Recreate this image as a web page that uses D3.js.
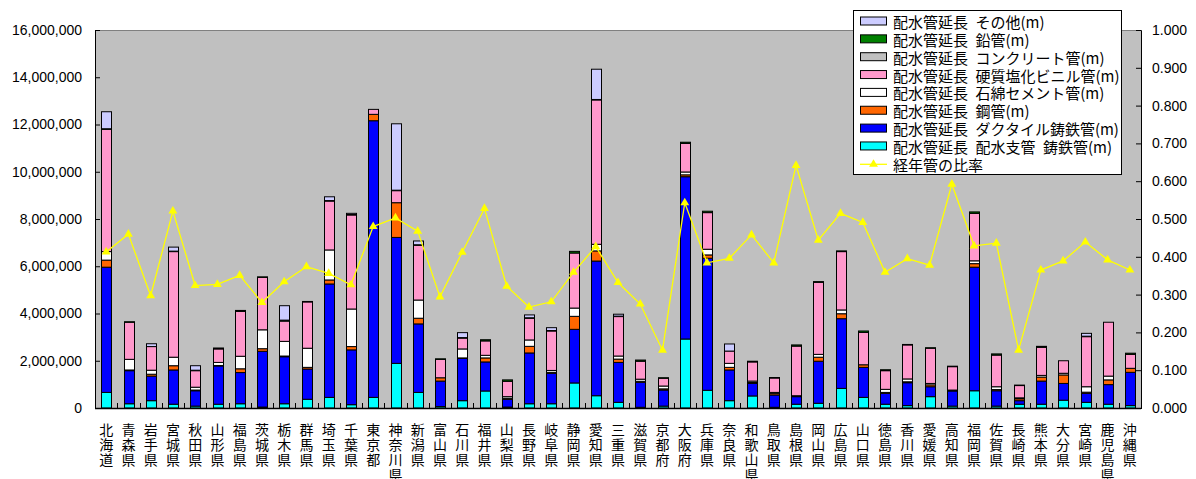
<!DOCTYPE html>
<html><head><meta charset="utf-8">
<script src="https://cdn.jsdelivr.net/npm/d3@7"></script>
<style>
html,body{margin:0;padding:0;background:#fff;}
svg{display:block;}
.catlabel{writing-mode:vertical-rl;text-orientation:upright;}
</style></head><body>
<svg id="chart" width="1196" height="479"></svg>
<script>
// 都道府県別 配水管延長（管種別, m）と経年管の比率
const prefectures = ["北海道","青森県","岩手県","宮城県","秋田県","山形県","福島県","茨城県","栃木県","群馬県","埼玉県","千葉県","東京都","神奈川県","新潟県","富山県","石川県","福井県","山梨県","長野県","岐阜県","静岡県","愛知県","三重県","滋賀県","京都府","大阪府","兵庫県","奈良県","和歌山県","鳥取県","島根県","岡山県","広島県","山口県","徳島県","香川県","愛媛県","高知県","福岡県","佐賀県","長崎県","熊本県","大分県","宮崎県","鹿児島県","沖縄県"];

const castIronBranch = [660000,180000,310000,160000,80000,160000,180000,40000,180000,370000,450000,140000,450000,1890000,660000,60000,310000,720000,40000,180000,180000,1060000,520000,240000,30000,80000,2920000,750000,310000,510000,30000,160000,200000,830000,450000,160000,100000,480000,80000,730000,80000,160000,160000,330000,240000,160000,100000];
const ductileIron = [5300000,1400000,1040000,1450000,650000,1620000,1320000,2360000,1990000,1280000,4800000,2320000,11710000,5330000,2900000,1080000,1790000,1230000,330000,2150000,1290000,2270000,5700000,1690000,1060000,680000,6870000,5590000,1300000,530000,520000,320000,1780000,2950000,1270000,460000,970000,420000,640000,5230000,650000,150000,980000,710000,380000,830000,1410000];
const steelPipe = [300000,30000,80000,180000,30000,20000,160000,110000,30000,70000,170000,140000,270000,1470000,240000,140000,20000,170000,40000,280000,40000,550000,430000,140000,40000,50000,80000,140000,110000,40000,60000,40000,170000,210000,110000,40000,40000,80000,40000,150000,50000,80000,170000,360000,50000,200000,170000];
const asbestosCement = [360000,450000,170000,360000,120000,130000,530000,800000,620000,810000,1270000,1590000,0,0,770000,0,380000,110000,70000,270000,80000,350000,280000,130000,90000,120000,120000,240000,170000,60000,50000,0,120000,160000,0,130000,120000,60000,0,120000,120000,40000,70000,70000,230000,160000,0];
const rigidPVC = [5180000,1570000,1000000,4470000,700000,570000,1900000,2220000,860000,1960000,2070000,3980000,210000,510000,2320000,780000,460000,610000,650000,920000,1670000,2330000,6110000,1670000,760000,330000,1210000,1550000,520000,810000,610000,2100000,3050000,2470000,1370000,790000,1440000,1490000,990000,2010000,1340000,520000,1190000,530000,2120000,2280000,590000];
const concretePipe = [0,0,0,0,0,0,0,0,0,0,0,0,0,0,0,0,0,0,0,0,0,0,0,0,0,0,0,0,0,0,0,0,0,0,0,0,0,0,0,0,0,0,0,0,0,0,0];
const leadPipe = [20000,20000,0,20000,20000,40000,40000,20000,40000,20000,20000,20000,0,20000,20000,20000,20000,50000,60000,20000,20000,70000,20000,20000,50000,20000,50000,60000,0,30000,20000,50000,30000,30000,60000,40000,20000,20000,20000,60000,50000,20000,40000,0,20000,0,50000];
const otherPipe = [720000,0,120000,170000,190000,0,0,0,610000,0,160000,50000,0,2810000,160000,0,210000,0,0,120000,120000,0,1280000,80000,0,0,0,0,300000,0,0,0,0,0,0,0,0,0,0,0,0,0,0,0,120000,0,0];
const agedRatio = [0.413,0.460,0.297,0.521,0.324,0.327,0.351,0.279,0.334,0.374,0.356,0.326,0.480,0.503,0.468,0.294,0.412,0.528,0.322,0.267,0.281,0.359,0.427,0.332,0.275,0.153,0.543,0.384,0.396,0.458,0.384,0.642,0.444,0.515,0.491,0.359,0.395,0.378,0.592,0.429,0.436,0.153,0.365,0.389,0.439,0.392,0.365];

const leftTicks = [0,2000000,4000000,6000000,8000000,10000000,12000000,14000000,16000000];
const rightTicks = [0,0.1,0.2,0.3,0.4,0.5,0.6,0.7,0.8,0.9,1.0];

// 積み上げ順（下から）
const seriesDefs = [
  {key:"castIronBranch", name:"配水管延長\u2002配水支管\u2002鋳鉄管(m)", color:"#00ffff", values:castIronBranch},
  {key:"ductileIron", name:"配水管延長\u2002ダクタイル鋳鉄管(m)", color:"#0000ff", values:ductileIron},
  {key:"steelPipe", name:"配水管延長\u2002鋼管(m)", color:"#ff6600", values:steelPipe},
  {key:"asbestosCement", name:"配水管延長\u2002石綿セメント管(m)", color:"#ffffff", values:asbestosCement},
  {key:"rigidPVC", name:"配水管延長\u2002硬質塩化ビニル管(m)", color:"#ff99cc", values:rigidPVC},
  {key:"concretePipe", name:"配水管延長\u2002コンクリート管(m)", color:"#c0c0c0", values:concretePipe},
  {key:"leadPipe", name:"配水管延長\u2002鉛管(m)", color:"#008000", values:leadPipe},
  {key:"otherPipe", name:"配水管延長\u2002その他(m)", color:"#ccccff", values:otherPipe}
];
const lineName = "経年管の比率";

const svg = d3.select("#chart");
const plot = {left:95, right:1141, top:30, bottom:408};

const x = d3.scaleBand().domain(prefectures).range([plot.left, plot.right])
  .paddingInner(0.565).paddingOuter(0.2825);
const yL = d3.scaleLinear().domain([0,16000000]).range([plot.bottom, plot.top]);
const yR = d3.scaleLinear().domain([0,1]).range([plot.bottom, plot.top]);

// plot area background
svg.append("rect").attr("x",plot.left).attr("y",plot.top)
  .attr("width",plot.right-plot.left).attr("height",plot.bottom-plot.top)
  .attr("fill","#c0c0c0");
svg.append("line").attr("x1",plot.left).attr("x2",plot.right)
  .attr("y1",plot.top+0.5).attr("y2",plot.top+0.5)
  .attr("stroke","#808080").attr("stroke-width",1);

// stacked data
const rows = prefectures.map((p,i)=>{
  const r = {pref:p};
  seriesDefs.forEach(s=>{ r[s.key] = s.values[i]; });
  return r;
});
const stack = d3.stack().keys(seriesDefs.map(s=>s.key));
const stacked = stack(rows);

const bars = svg.append("g");
stacked.forEach((layer,li)=>{
  bars.append("g").attr("fill", seriesDefs[li].color)
    .selectAll("rect").data(layer.filter(d=>d[1]-d[0]>0)).join("rect")
    .attr("x", d=>Math.round(x(d.data.pref))+0.5)
    .attr("width", Math.round(x.bandwidth()))
    .attr("y", d=>yL(d[1]))
    .attr("height", d=>yL(d[0])-yL(d[1]))
    .attr("stroke","#000").attr("stroke-width",1);
});

// axes
const axisFont = "'Liberation Sans', Arial, sans-serif";
const gL = svg.append("g").attr("transform",`translate(${plot.left},0)`)
  .call(d3.axisLeft(yL).tickValues(leftTicks).tickSize(-5).tickPadding(13)
    .tickFormat(d3.format(",")));
gL.select(".domain").attr("stroke","#000");
gL.selectAll(".tick line").attr("stroke","#000");
gL.selectAll("text").attr("font-family",axisFont).attr("font-size",14).attr("fill","#000");

const gR = svg.append("g").attr("transform",`translate(${plot.right},0)`)
  .call(d3.axisRight(yR).tickValues(rightTicks).tickSize(-5).tickPadding(11)
    .tickFormat(d3.format(".3f")));
gR.select(".domain").attr("stroke","#000");
gR.selectAll(".tick line").attr("stroke","#000");
gR.selectAll("text").attr("font-family",axisFont).attr("font-size",14).attr("fill","#000");

// category axis line and ticks between categories
svg.append("line").attr("x1",plot.left).attr("x2",plot.right)
  .attr("y1",plot.bottom+0.5).attr("y2",plot.bottom+0.5).attr("stroke","#000").attr("stroke-width",1.5);
const step = x.step();
svg.append("g").selectAll("line").data(d3.range(prefectures.length+1)).join("line")
  .attr("x1",i=>Math.round(plot.left+i*step)+0.5).attr("x2",i=>Math.round(plot.left+i*step)+0.5)
  .attr("y1",plot.bottom-5).attr("y2",plot.bottom+1)
  .attr("stroke","#000");

// category labels, written vertically (upright characters, top to bottom)
svg.append("g").attr("font-family","'Noto Sans CJK JP', sans-serif")
  .attr("font-size",14).attr("fill","#000")
  .selectAll("text").data(prefectures).join("text")
  .attr("class","catlabel")
  .attr("x",p=>x(p)+x.bandwidth()/2).attr("y",423)
  .attr("letter-spacing",1)
  .text(p=>p);

// aged-pipe ratio line
const lineGen = d3.line().x(d=>x(d.pref)+x.bandwidth()/2).y(d=>yR(d.v));
const lineData = prefectures.map((p,i)=>({pref:p, v:agedRatio[i]}));
svg.append("path").datum(lineData).attr("d",lineGen)
  .attr("fill","none").attr("stroke","#ffff00").attr("stroke-width",1.3);
const tri = d3.symbol().type(d3.symbolTriangle).size(34);
svg.append("g").selectAll("path").data(lineData).join("path")
  .attr("transform",d=>`translate(${x(d.pref)+x.bandwidth()/2},${yR(d.v)})`)
  .attr("d",tri).attr("fill","#ffff00");

// legend
const lg = svg.append("g");
lg.append("rect").attr("x",853.5).attr("y",10.5).attr("width",268).attr("height",164)
  .attr("fill","#fff").attr("stroke","#000").attr("stroke-width",1);
const legendItems = seriesDefs.slice().reverse();
const rowY = i=>21.5+i*17.85;
legendItems.forEach((s,i)=>{
  lg.append("rect").attr("x",860.5).attr("y",rowY(i)-4.5).attr("width",26).attr("height",8)
    .attr("fill",s.color).attr("stroke","#000").attr("stroke-width",1);
  lg.append("text").attr("x",893).attr("y",rowY(i)).attr("dominant-baseline","central")
    .attr("font-family","'Noto Sans CJK JP', sans-serif").attr("font-size",15)
    .attr("fill","#000").attr("xml:space","preserve").text(s.name);
});
const li = legendItems.length;
lg.append("line").attr("x1",860).attr("x2",887).attr("y1",rowY(li)).attr("y2",rowY(li))
  .attr("stroke","#ffff00").attr("stroke-width",1.3);
lg.append("path").attr("transform",`translate(873.5,${rowY(li)})`).attr("d",tri).attr("fill","#ffff00");
lg.append("text").attr("x",893).attr("y",rowY(li)).attr("dominant-baseline","central")
  .attr("font-family","'Noto Sans CJK JP', sans-serif").attr("font-size",15).attr("fill","#000")
  .text(lineName);
</script>
</body></html>
